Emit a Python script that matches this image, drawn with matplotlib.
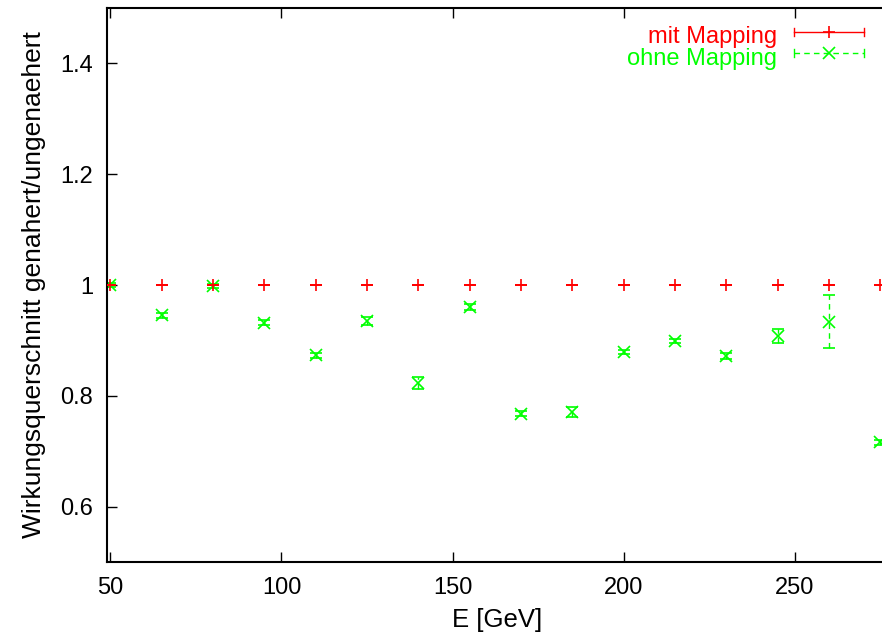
import numpy as np
import matplotlib.pyplot as plt

# Energie in GeV und Verhaeltnis genahert/ungenaehert
energie = np.array([50, 65, 80, 95, 110, 125, 140, 155, 170, 185, 200, 215, 230, 245, 260, 275])
mit_mapping = np.array([1.0] * 16)
mit_fehler = np.array([0.0] * 16)
ohne_mapping = np.array([1.0, 0.945, 0.998, 0.932, 0.873, 0.935, 0.823, 0.960,
                         0.768, 0.770, 0.879, 0.899, 0.872, 0.908, 0.934, 0.716])
ohne_fehler = np.array([0.003, 0.004, 0.003, 0.005, 0.004, 0.008, 0.011, 0.005,
                        0.004, 0.009, 0.004, 0.004, 0.005, 0.013, 0.048, 0.004])

rot = "#ff0000"
gruen = "#00ff00"

plt.rcParams['font.family'] = ['Liberation Sans', 'DejaVu Sans']

fig = plt.figure(figsize=(8.82, 6.37), dpi=100)
ax = fig.add_axes([107 / 882, 75 / 637, 780 / 882, 554 / 637])

ax.errorbar(energie, mit_mapping, yerr=mit_fehler, fmt='+', color=rot,
            markersize=8.5, mew=1.2, elinewidth=1, capsize=4, zorder=3)
eb = ax.errorbar(energie, ohne_mapping, yerr=ohne_fehler, fmt='x', color=gruen,
                 markersize=9, mew=1.2, elinewidth=1, capsize=4, zorder=2)
for lc in eb[2]:
    lc.set_linestyle((0, (4, 3)))

ax.set_xlim(49, 277)
ax.set_ylim(0.5, 1.5)
ax.set_xticks([50, 100, 150, 200, 250])
ax.set_yticks([0.6, 0.8, 1.0, 1.2, 1.4])
ax.set_yticklabels(["0.6", "0.8", "1", "1.2", "1.4"])
ax.tick_params(direction='in', length=7, width=1, top=True, right=False,
               labelsize=17, pad=11)
ax.tick_params(axis='y', pad=10)
for s in ax.spines.values():
    s.set_linewidth(1.5)
ax.spines['right'].set_visible(False)

ax.set_xlabel("E [GeV]", fontsize=18.5, labelpad=6)
ax.set_ylabel("Wirkungsquerschnitt genahert/ungenaehert", fontsize=19, labelpad=10)

# Legende im gnuplot-Stil (rechts oben)
def fx(px):
    return px / 882

def fy(py):
    return 1 - py / 637

for name, farbe, ytext, ypix, marker, ls in [("mit Mapping", rot, 43, 32, '+', '-'),
                                              ("ohne Mapping", gruen, 65.5, 53, 'x', (0, (4, 3)))]:
    fig.text(fx(777), fy(ytext), name, color=farbe, fontsize=17, ha='right', va='baseline')
    fig.add_artist(plt.Line2D([fx(794), fx(864)], [fy(ypix), fy(ypix)], color=farbe,
                              lw=1, linestyle=ls, transform=fig.transFigure))
    for xc in (794, 864):
        fig.add_artist(plt.Line2D([fx(xc), fx(xc)], [fy(ypix - 4), fy(ypix + 4)],
                                  color=farbe, lw=1, transform=fig.transFigure))
    fig.add_artist(plt.Line2D([fx(829)], [fy(ypix)], marker=marker, color=farbe,
                              markersize=8.5, mew=1.2, transform=fig.transFigure))

fig.savefig("out.png", dpi=100)
